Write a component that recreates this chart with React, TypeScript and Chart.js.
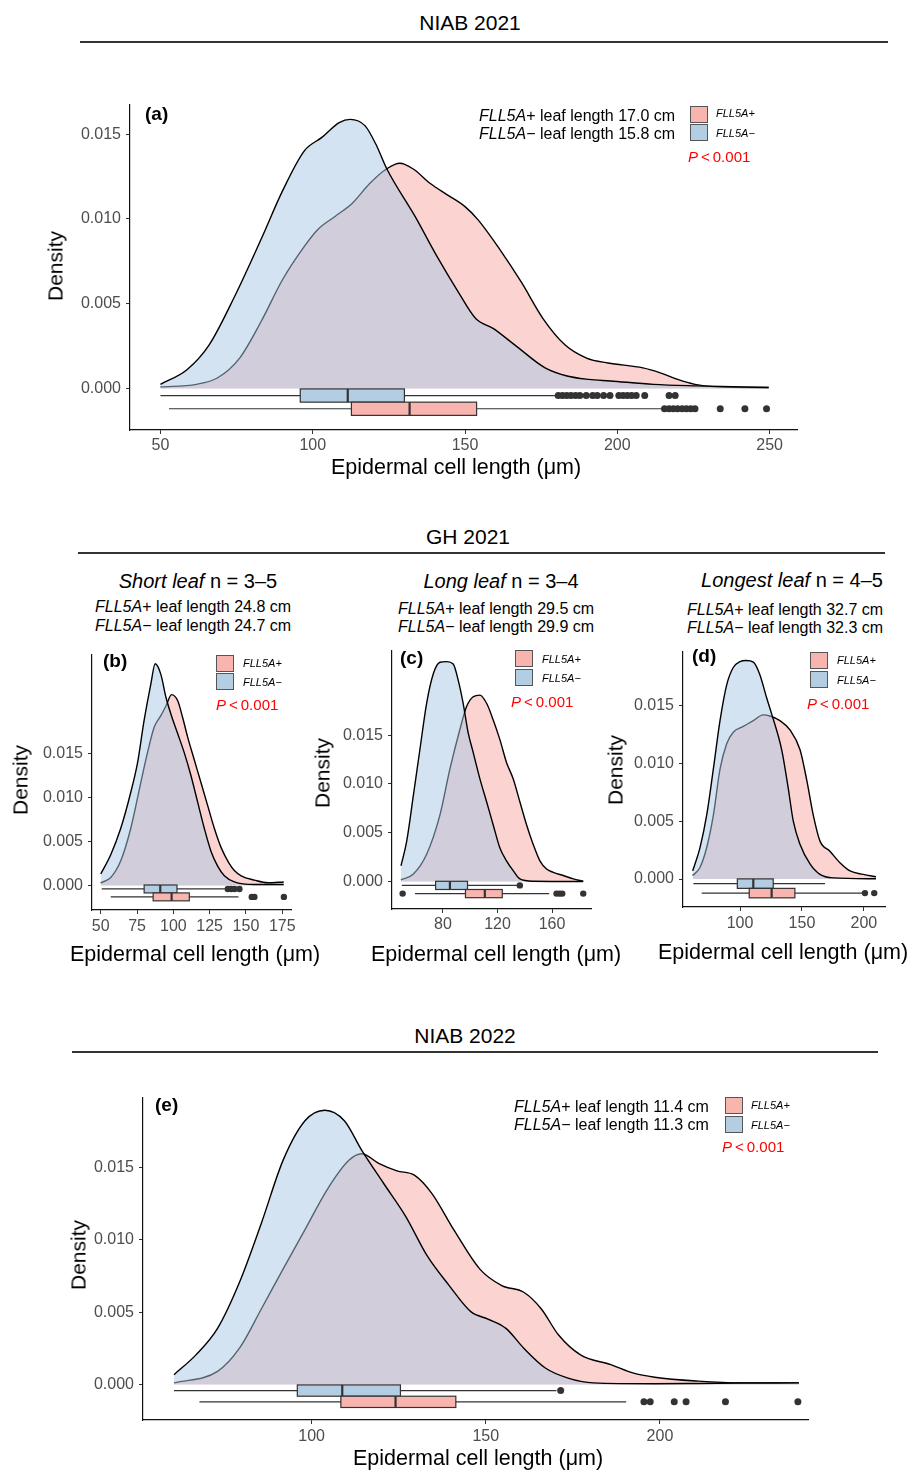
import React, { useEffect, useRef } from "react";
import { Chart, registerables } from "chart.js";
Chart.register(...registerables);

const FONT = '"Liberation Sans", Arial, Helvetica, sans-serif';
const BLUE_FILL = "rgba(168,199,228,0.5)";
const PINK_FILL = "rgba(247,168,163,0.5)";
const BLUE_BOX = "#B3CDE3";
const PINK_BOX = "#F8B5B0";

// ---------- shared ticks ----------
const densityTicks = [0, 0.005, 0.01, 0.015];

// ---------- (a) NIAB 2021 ----------
const aTicks = [50, 100, 150, 200, 250];
const aMinusX = [50, 58.8, 66, 74.5, 83, 90.2, 97.3, 103, 108.7, 112.3, 117.2, 120.7, 124.3, 133.6, 140.7, 147.8, 153.5, 159.2, 166.3, 176.3, 183.5, 190.6, 197.7, 211.9, 226.2, 249.7];
const aMinusY = [0.00025, 0.00113, 0.00258, 0.00549, 0.00879, 0.0117, 0.01403, 0.01481, 0.01568, 0.01587, 0.01549, 0.01442, 0.01296, 0.01015, 0.00782, 0.00569, 0.00413, 0.00355, 0.00258, 0.00122, 0.00074, 0.00054, 0.00045, 0.00025, 0.00016, 0.00006];
const aPlusX = [50, 61.8, 68.8, 76, 83, 90.2, 97.3, 101.6, 107.3, 113, 118.7, 124.3, 128.6, 132.9, 138.6, 144.3, 150, 154.3, 161.4, 168.5, 175.6, 182.8, 189.9, 197, 208.4, 214.1, 219.8, 225.5, 232.6, 249.7];
const aPlusY = [0.0001, 0.00025, 0.00064, 0.0018, 0.00394, 0.00646, 0.0084, 0.00937, 0.01015, 0.01093, 0.01209, 0.01296, 0.01329, 0.01296, 0.01209, 0.01141, 0.01073, 0.00995, 0.00821, 0.00627, 0.00413, 0.00258, 0.0018, 0.00151, 0.00122, 0.00093, 0.00054, 0.00025, 0.0001, 0.00006];
const aMinusBox = [50, 95.9, 111.5, 130.1, 179.9];
const aPlusBox = [52.8, 112.7, 131.8, 153.8, 215.5];
const aMinusOut = [180.6, 182, 183.4, 184.8, 186.3, 187.7, 189.8, 191.9, 193.4, 195.5, 197.6, 200.5, 201.9, 203.3, 204.7, 206.2, 209, 217, 219];
const aPlusOut = [215.5, 217, 218.4, 219.8, 221.3, 222.7, 224.1, 225.5, 233.8, 241.9, 249];

// ---------- (b) GH 2021 short leaf ----------
const bTicks = [50, 75, 100, 125, 150, 175];
const bMinusX = [50, 56.9, 63.8, 70.7, 75.3, 79.9, 84.5, 87.5, 91.4, 94.9, 98.3, 102.9, 107.5, 112.1, 116.7, 121.3, 125.9, 130.5, 135.1, 142, 155.9, 176];
const bMinusY = [0.0013, 0.0035, 0.0065, 0.0106, 0.0139, 0.0188, 0.0229, 0.0252, 0.024, 0.0214, 0.0195, 0.0173, 0.0151, 0.0125, 0.0095, 0.0065, 0.0039, 0.0022, 0.0011, 0.0004, 0.0001, 0.0001];
const bPlusX = [50, 56.9, 63.8, 70.7, 77.6, 82.2, 86.8, 91.4, 94.9, 98.8, 103, 106.4, 109.8, 114.4, 119, 123.6, 128.2, 132.9, 138.1, 142, 146.7, 155.9, 165, 176];
const bPlusY = [0.0003, 0.0009, 0.0028, 0.0065, 0.0117, 0.0151, 0.018, 0.0193, 0.0204, 0.0217, 0.021, 0.0191, 0.0169, 0.0143, 0.0117, 0.0091, 0.0065, 0.0043, 0.0026, 0.0017, 0.0011, 0.0006, 0.0003, 0.0004];
const bMinusBox = [50.7, 79.9, 91, 102.5, 136.3];
const bPlusBox = [56.9, 86.1, 98.8, 111, 144.8];
const bMinusOut = [137.5, 139.8, 142.1, 145.5];
const bPlusOut = [154, 155.8, 176.1];

// ---------- (c) GH 2021 long leaf ----------
const cTicks = [80, 120, 160];
const cMinusX = [49.2, 53.4, 58.3, 63.1, 68, 72.9, 77.8, 82.7, 87.5, 91.2, 94.8, 98.5, 102.2, 107.1, 112, 116.8, 121.7, 126.6, 131.5, 136.4, 146.2, 182.9];
const cMinusY = [0.00161, 0.00414, 0.00884, 0.01355, 0.01826, 0.02128, 0.02246, 0.02253, 0.02229, 0.02061, 0.01826, 0.01523, 0.01321, 0.01052, 0.00817, 0.00582, 0.00346, 0.00212, 0.00111, 0.00027, 0.00003, 0];
const cPlusX = [49.2, 58.3, 68, 77.8, 85.1, 92.4, 97.3, 102.2, 107.1, 112, 116.8, 121.7, 126.6, 131.5, 136.4, 141.3, 146.2, 151.1, 156, 160.9, 168.2, 175.6, 182.9];
const cPlusY = [0.00017, 0.00077, 0.00279, 0.00683, 0.01153, 0.01557, 0.01792, 0.01893, 0.0191, 0.01826, 0.01658, 0.01456, 0.0122, 0.01052, 0.00817, 0.00582, 0.0038, 0.00212, 0.00128, 0.00094, 0.00061, 0.00027, 0.00003];
const cMinusBox = [49.8, 74.6, 85.1, 98, 134.5];
const cPlusBox = [59.5, 96.5, 110.7, 123.5, 157.9];
const cMinusOut = [136.4];
const cPlusOut = [50.4, 163.3, 165.5, 167.5, 182.9];

// ---------- (d) GH 2021 longest leaf ----------
const dTicks = [100, 150, 200];
const dMinusX = [61.7, 67.6, 73, 78.4, 83.8, 89.2, 94.5, 99.9, 105, 110.7, 116, 121.4, 125.5, 133.6, 139, 143, 148.4, 156.5, 164.5, 175.3, 209.8];
const dMinusY = [0.0007, 0.0027, 0.0055, 0.0095, 0.0137, 0.0168, 0.0183, 0.0188, 0.0189, 0.01876, 0.01768, 0.0157, 0.01429, 0.0112, 0.0078, 0.005, 0.003, 0.0013, 0.0004, 0.0001, 0.00002];
const dPlusX = [61.7, 67.6, 73, 78.4, 83.8, 89.2, 94.5, 102.6, 110.7, 118.7, 124.1, 132.2, 140.3, 148.4, 153.8, 159.2, 164.5, 172.6, 180.7, 188.8, 199.5, 209.8];
const dPlusY = [0.0003, 0.001, 0.0027, 0.0055, 0.0095, 0.0117, 0.0127, 0.0132, 0.0137, 0.0142, 0.0141, 0.0137, 0.0129, 0.0112, 0.0086, 0.0055, 0.0033, 0.0024, 0.0014, 0.0007, 0.0004, 0.0002];
const dMinusBox = [62.3, 97.8, 110.7, 126.8, 168.6];
const dPlusBox = [69, 107.4, 125.5, 144.3, 199.5];
const dMinusOut: number[] = [];
const dPlusOut = [200.9, 208.4];

// ---------- (e) NIAB 2022 ----------
const eTicks = [100, 150, 200];
const eMinusX = [60.5, 66.8, 73, 79.3, 85.6, 91.8, 98.1, 103.8, 109.4, 114.4, 120.7, 127, 133.2, 139.5, 145.8, 150.8, 155.8, 160.9, 167.1, 173.4, 180.9, 198.5, 211, 223.6, 239.9];
const eMinusY = [0.00068, 0.00205, 0.00388, 0.00707, 0.01117, 0.0155, 0.01824, 0.01897, 0.01824, 0.01619, 0.0139, 0.01163, 0.00889, 0.00684, 0.00502, 0.00451, 0.00388, 0.00251, 0.00114, 0.00046, 0.00011, 0.00005, 0.00007, 0.0001, 0.00011];
const ePlusX = [60.5, 73, 79.3, 85.6, 91.8, 98.1, 104.4, 110.7, 114.4, 119.4, 124.5, 129.5, 134.5, 140.8, 148.3, 154.6, 160.9, 165.9, 170.9, 177.2, 185.9, 192.2, 198.5, 211, 223.6, 239.9];
const ePlusY = [0.00011, 0.00091, 0.00251, 0.00524, 0.00798, 0.01071, 0.01345, 0.0155, 0.01596, 0.01527, 0.01477, 0.01448, 0.01322, 0.01071, 0.00798, 0.00684, 0.00638, 0.00524, 0.00342, 0.00205, 0.00137, 0.0008, 0.0005, 0.00023, 0.00011, 0.00011];
const eMinusBox = [60.5, 95.9, 108.8, 125.5, 170.3];
const ePlusBox = [67.8, 108.4, 124.1, 141.4, 190.3];
const eMinusOut = [171.5];
const ePlusOut = [195.4, 197.2, 204.1, 207.5, 218.8, 239.6];

type Series = { x: number[]; y: number[]; box: number[]; out: number[] };
type PanelDef = {
  canvas: { left: number; top: number; width: number; height: number };
  area: { left: number; top: number; right: number; bottom: number };
  xRange: [number, number];
  yRange: [number, number];
  xTicks: number[];
  xPad: number;
  minus: Series;
  plus: Series;
  boxY: { minus: number; plus: number; half: number };
  dotR: number;
};

const toXY = (xs: number[], ys: number[]) => xs.map((x, i) => ({ x, y: ys[i] }));

function DensityPanel({ def }: { def: PanelDef }) {
  const ref = useRef<HTMLCanvasElement | null>(null);
  useEffect(() => {
    const cv = ref.current;
    if (!cv) return;
    const { canvas, area, boxY } = def;
    const boxPlugin = {
      id: "boxes",
      afterDatasetsDraw(chart: any) {
        const { ctx } = chart;
        const xs = chart.scales.x;
        const ys = chart.scales.y;
        const drawBox = (s: Series, center: number, fill: string) => {
          const yc = ys.getPixelForValue(center);
          const yt = ys.getPixelForValue(center + boxY.half);
          const yb = ys.getPixelForValue(center - boxY.half);
          const [mn, q1, md, q3, mx] = s.box.map((v) => xs.getPixelForValue(v));
          ctx.save();
          ctx.strokeStyle = "#333";
          ctx.lineWidth = 1.2;
          ctx.beginPath();
          ctx.moveTo(mn, yc);
          ctx.lineTo(mx, yc);
          ctx.stroke();
          ctx.fillStyle = fill;
          ctx.fillRect(q1, yt, q3 - q1, yb - yt);
          ctx.strokeRect(q1, yt, q3 - q1, yb - yt);
          ctx.lineWidth = 2.2;
          ctx.beginPath();
          ctx.moveTo(md, yt);
          ctx.lineTo(md, yb);
          ctx.stroke();
          ctx.fillStyle = "#333";
          s.out.forEach((v) => {
            ctx.beginPath();
            ctx.arc(xs.getPixelForValue(v), yc, def.dotR, 0, Math.PI * 2);
            ctx.fill();
          });
          ctx.restore();
        };
        drawBox(def.minus, boxY.minus, BLUE_BOX);
        drawBox(def.plus, boxY.plus, PINK_BOX);
      },
    };
    const tickFont = { family: FONT, size: 16 };
    const chart = new Chart(cv, {
      type: "line",
      data: {
        datasets: [
          {
            label: "FLL5A−",
            data: toXY(def.minus.x, def.minus.y),
            borderColor: "#000",
            borderWidth: 1.4,
            backgroundColor: BLUE_FILL,
            fill: "origin",
            pointRadius: 0,
            cubicInterpolationMode: "monotone",
          },
          {
            label: "FLL5A+",
            data: toXY(def.plus.x, def.plus.y),
            borderColor: "#000",
            borderWidth: 1.4,
            backgroundColor: PINK_FILL,
            fill: "origin",
            pointRadius: 0,
            cubicInterpolationMode: "monotone",
          },
        ],
      },
      options: {
        animation: false,
        responsive: false,
        maintainAspectRatio: false,
        layout: {
          padding: {
            left: 0,
            top: area.top - canvas.top,
            right: canvas.left + canvas.width - area.right,
            bottom: 0,
          },
        },
        plugins: { legend: { display: false }, tooltip: { enabled: false } },
        scales: {
          x: {
            type: "linear",
            min: def.xRange[0],
            max: def.xRange[1],
            afterBuildTicks: (s: any) => {
              s.ticks = def.xTicks.map((v) => ({ value: v }));
            },
            afterFit: (s: any) => {
              s.height = canvas.top + canvas.height - area.bottom;
            },
            grid: { drawOnChartArea: false, drawTicks: true, tickLength: 4, color: "#333", lineWidth: 1 },
            border: { display: true, color: "#111", width: 1.2 },
            ticks: {
              color: "#4D4D4D",
              font: tickFont,
              padding: def.xPad,
              autoSkip: false,
              maxRotation: 0,
              callback: (v: any) => String(v),
            },
          },
          y: {
            type: "linear",
            min: def.yRange[0],
            max: def.yRange[1],
            afterBuildTicks: (s: any) => {
              s.ticks = densityTicks.map((v) => ({ value: v }));
            },
            afterFit: (s: any) => {
              s.width = area.left - canvas.left;
            },
            grid: { drawOnChartArea: false, drawTicks: true, tickLength: 4, color: "#333", lineWidth: 1 },
            border: { display: true, color: "#111", width: 1.2 },
            ticks: {
              color: "#4D4D4D",
              font: tickFont,
              padding: 5,
              autoSkip: false,
              callback: (v: any) => Number(v).toFixed(3),
            },
          },
        },
      } as any,
      plugins: [boxPlugin as any],
    });
    return () => chart.destroy();
  }, [def]);
  const { canvas } = def;
  return (
    <canvas
      ref={ref}
      width={canvas.width}
      height={canvas.height}
      style={{ position: "absolute", left: canvas.left, top: canvas.top, width: canvas.width, height: canvas.height }}
    />
  );
}

const panelA: PanelDef = {
  canvas: { left: 30, top: 90, width: 787, height: 395 },
  area: { left: 130, top: 100, right: 797, bottom: 430 },
  xRange: [40, 259],
  yRange: [-0.002442, 0.016744],
  xTicks: aTicks,
  xPad: 2,
  minus: { x: aMinusX, y: aMinusY, box: aMinusBox, out: aMinusOut },
  plus: { x: aPlusX, y: aPlusY, box: aPlusBox, out: aPlusOut },
  boxY: { minus: -0.00041, plus: -0.00119, half: 0.00039 },
  dotR: 3.5,
};
const panelB: PanelDef = {
  canvas: { left: 0, top: 640, width: 306, height: 335 },
  area: { left: 92, top: 650, right: 291, bottom: 910 },
  xRange: [44, 181],
  yRange: [-0.002792, 0.026248],
  xTicks: bTicks,
  xPad: 3,
  minus: { x: bMinusX, y: bMinusY, box: bMinusBox, out: bMinusOut },
  plus: { x: bPlusX, y: bPlusY, box: bPlusBox, out: bPlusOut },
  boxY: { minus: -0.0004, plus: -0.0013, half: 0.00045 },
  dotR: 3.2,
};
const panelC: PanelDef = {
  canvas: { left: 300, top: 636, width: 306, height: 339 },
  area: { left: 392, top: 646, right: 591, bottom: 909 },
  xRange: [42.6, 188.6],
  yRange: [-0.002819, 0.023658],
  xTicks: cTicks,
  xPad: 2,
  minus: { x: cMinusX, y: cMinusY, box: cMinusBox, out: cMinusOut },
  plus: { x: cPlusX, y: cPlusY, box: cPlusBox, out: cPlusOut },
  boxY: { minus: -0.0004, plus: -0.00124, half: 0.00042 },
  dotR: 3.2,
};
const panelD: PanelDef = {
  canvas: { left: 595, top: 637, width: 317, height: 338 },
  area: { left: 683, top: 647, right: 885, bottom: 907 },
  xRange: [53.9, 217.1],
  yRange: [-0.002422, 0.019674],
  xTicks: dTicks,
  xPad: 3,
  minus: { x: dMinusX, y: dMinusY, box: dMinusBox, out: dMinusOut },
  plus: { x: dPlusX, y: dPlusY, box: dPlusBox, out: dPlusOut },
  boxY: { minus: -0.0004, plus: -0.00122, half: 0.00041 },
  dotR: 3.2,
};
const panelE: PanelDef = {
  canvas: { left: 40, top: 1083, width: 788, height: 389 },
  area: { left: 143, top: 1093, right: 808, bottom: 1420 },
  xRange: [51.6, 242.5],
  yRange: [-0.002455, 0.01984],
  xTicks: eTicks,
  xPad: 3,
  minus: { x: eMinusX, y: eMinusY, box: eMinusBox, out: eMinusOut },
  plus: { x: ePlusX, y: ePlusY, box: ePlusBox, out: ePlusOut },
  boxY: { minus: -0.00042, plus: -0.0012, half: 0.00039 },
  dotR: 3.5,
};

type TProps = {
  x: number;
  y: number;
  size: number;
  anchor?: "left" | "center" | "right";
  bold?: boolean;
  italic?: boolean;
  color?: string;
  rotate?: boolean;
  children: React.ReactNode;
};
function T({ x, y, size, anchor = "center", bold, italic, color = "#000", rotate, children }: TProps) {
  const tx = anchor === "left" ? "0" : anchor === "right" ? "-100%" : "-50%";
  return (
    <div
      style={{
        position: "absolute",
        left: x,
        top: y,
        fontFamily: FONT,
        fontSize: size,
        lineHeight: 1,
        fontWeight: bold ? 700 : 400,
        fontStyle: italic ? "italic" : "normal",
        color,
        whiteSpace: "pre",
        transform: `translate(${tx}, -50%)${rotate ? " rotate(-90deg)" : ""}`,
        transformOrigin: "center center",
      }}
    >
      {children}
    </div>
  );
}

function HLine({ x1, x2, y }: { x1: number; x2: number; y: number }) {
  return <div style={{ position: "absolute", left: x1, top: y - 0.75, width: x2 - x1, height: 1.5, background: "#333" }} />;
}

function Swatch({ x, y, color }: { x: number; y: number; color: string }) {
  return (
    <div
      style={{
        position: "absolute",
        left: x,
        top: y,
        width: 18,
        height: 17,
        boxSizing: "border-box",
        background: color,
        border: "1px solid #555",
      }}
    />
  );
}

function Legend({ x, y1, y2, lx, ly1, ly2, px, py }: { x: number; y1: number; y2: number; lx: number; ly1: number; ly2: number; px: number; py: number }) {
  return (
    <>
      <Swatch x={x} y={y1} color={PINK_BOX} />
      <Swatch x={x} y={y2} color={BLUE_BOX} />
      <T x={lx} y={ly1} size={11} anchor="left" italic>FLL5A+</T>
      <T x={lx} y={ly2} size={11} anchor="left" italic>FLL5A−</T>
      <T x={px} y={py} size={15} anchor="left" color="#FF0000">
        <i>P</i>
        <span style={{ margin: "0 3px" }}>{"<"}</span>0.001
      </T>
    </>
  );
}

function LeafLines({ x, y1, y2, plus, minus }: { x: number; y1: number; y2: number; plus: string; minus: string }) {
  return (
    <>
      <T x={x} y={y1} size={16} anchor="left">
        <i>FLL5A</i>+ leaf length {plus} cm
      </T>
      <T x={x} y={y2} size={16} anchor="left">
        <i>FLL5A</i>− leaf length {minus} cm
      </T>
    </>
  );
}

const XTITLE = "Epidermal cell length (μm)";
const AX = 21.5;

export default function App() {
  return (
    <div style={{ position: "absolute", left: 0, top: 0, width: 912, height: 1472, background: "#fff", overflow: "hidden" }}>
      {/* NIAB 2021 */}
      <T x={470} y={22} size={21}>NIAB 2021</T>
      <HLine x1={80} x2={888} y={42} />
      <DensityPanel def={panelA} />
      <T x={145} y={113} size={19} anchor="left" bold>(a)</T>
      <LeafLines x={479} y1={116} y2={134} plus="17.0" minus="15.8" />
      <Legend x={690} y1={106} y2={124} lx={716} ly1={113} ly2={133} px={688} py={156} />
      <T x={55} y={266} size={21} rotate>Density</T>
      <T x={456} y={468} size={AX}>{XTITLE}</T>

      {/* GH 2021 */}
      <T x={468} y={536} size={21}>GH 2021</T>
      <HLine x1={78} x2={885} y={553} />

      <T x={198} y={581} size={20}><i>Short leaf</i> n = 3–5</T>
      <LeafLines x={95} y1={607} y2={626} plus="24.8" minus="24.7" />
      <DensityPanel def={panelB} />
      <T x={103} y={660} size={19} anchor="left" bold>(b)</T>
      <Legend x={216} y1={655} y2={673} lx={243} ly1={663} ly2={682} px={216} py={704} />
      <T x={20} y={780} size={21} rotate>Density</T>
      <T x={195} y={955} size={AX}>{XTITLE}</T>

      <T x={501} y={581} size={20}><i>Long leaf</i> n = 3–4</T>
      <LeafLines x={398} y1={609} y2={627} plus="29.5" minus="29.9" />
      <DensityPanel def={panelC} />
      <T x={400} y={657} size={19} anchor="left" bold>(c)</T>
      <Legend x={515} y1={650} y2={669} lx={542} ly1={659} ly2={678} px={511} py={701} />
      <T x={322} y={773} size={21} rotate>Density</T>
      <T x={496} y={955} size={AX}>{XTITLE}</T>

      <T x={792} y={580} size={20}><i>Longest leaf</i> n = 4–5</T>
      <LeafLines x={687} y1={610} y2={628} plus="32.7" minus="32.3" />
      <DensityPanel def={panelD} />
      <T x={692} y={655} size={19} anchor="left" bold>(d)</T>
      <Legend x={810} y1={652} y2={671} lx={837} ly1={660} ly2={680} px={807} py={703} />
      <T x={615} y={770} size={21} rotate>Density</T>
      <T x={783} y={953} size={AX}>{XTITLE}</T>

      {/* NIAB 2022 */}
      <T x={465} y={1035} size={21}>NIAB 2022</T>
      <HLine x1={72} x2={878} y={1052} />
      <DensityPanel def={panelE} />
      <T x={155} y={1104} size={19} anchor="left" bold>(e)</T>
      <LeafLines x={514} y1={1107} y2={1125} plus="11.4" minus="11.3" />
      <Legend x={725} y1={1097} y2={1116} lx={751} ly1={1105} ly2={1125} px={722} py={1146} />
      <T x={78} y={1255} size={21} rotate>Density</T>
      <T x={478} y={1459} size={AX}>{XTITLE}</T>
    </div>
  );
}
